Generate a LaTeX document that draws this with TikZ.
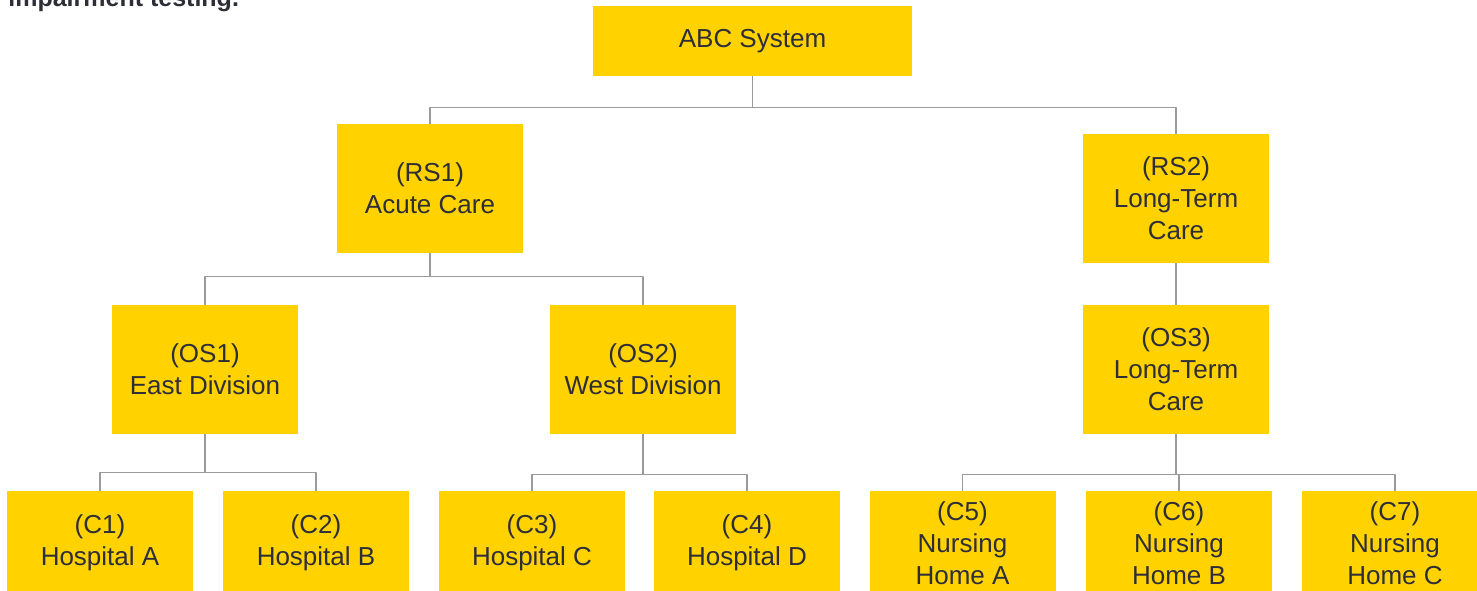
\documentclass[tikz,border=0pt]{standalone}
\usepackage{fontspec}
\setmainfont{Liberation Sans}
\definecolor{boxyellow}{HTML}{FFD200}
\definecolor{textgray}{HTML}{2E2E38}
\definecolor{linegray}{HTML}{9A9A9A}
\begin{document}
\begin{tikzpicture}[x=0.5pt,y=-0.5pt, font=\fontsize{13}{16}\selectfont, line join=round,
	unit/.style={fill=boxyellow, text=textgray, align=center, minimum width=93pt, minimum height=64.5pt, inner sep=0pt},
	leaf/.style={unit, minimum height=52pt},
	link/.style={draw=linegray, line width=0.8pt}]
	\def\w{1477} \def\h{590}
	\useasboundingbox (0,0) rectangle (\w,\h);
	\clip (0,0) rectangle (\w,\h);
	\node[anchor=base west, inner sep=0pt, text=textgray, font=\bfseries\fontsize{12.5}{15}\selectfont] (caption) at (8,6) {impairment testing.};
	% top level
	\node[unit, minimum width=159.5pt, minimum height=35pt] (abc) at (752.5,41) {ABC System};
	\node[unit] (rs1) at (430,188.5) {(RS1)\\Acute Care};
	\node[unit] (rs2) at (1176,198.5) {(RS2)\\Long-Term\\Care};
	% divisions
	\node[unit] (os1) at (205,369.5) {(OS1)\\East Division};
	\node[unit] (os2) at (643,369.5) {(OS2)\\West Division};
	\node[unit] (os3) at (1176,369.5) {(OS3)\\Long-Term\\Care};
	% components
	\node[leaf] (c1) at (100,543) {(C1)\\Hospital A};
	\node[leaf] (c2) at (316,543) {(C2)\\Hospital B};
	\node[leaf] (c3) at (532,543) {(C3)\\Hospital C};
	\node[leaf] (c4) at (747,543) {(C4)\\Hospital D};
	\node[leaf] (c5) at (962.5,543) {(C5)\\Nursing\\Home A};
	\node[leaf] (c6) at (1179,543) {(C6)\\Nursing\\Home B};
	\node[leaf] (c7) at (1395,543) {(C7)\\Nursing\\Home C};
	% connectors
	\foreach \p/\k/\d in {abc/rs1/31, abc/rs2/31, rs1/os1/23, rs1/os2/23, rs2/os3/20,
		os1/c1/38, os1/c2/38, os2/c3/40, os2/c4/40, os3/c5/40, os3/c6/40, os3/c7/40}
		\draw[link] (\p.south) -- ++(0,\d) -| (\k.north);
\end{tikzpicture}
\end{document}
